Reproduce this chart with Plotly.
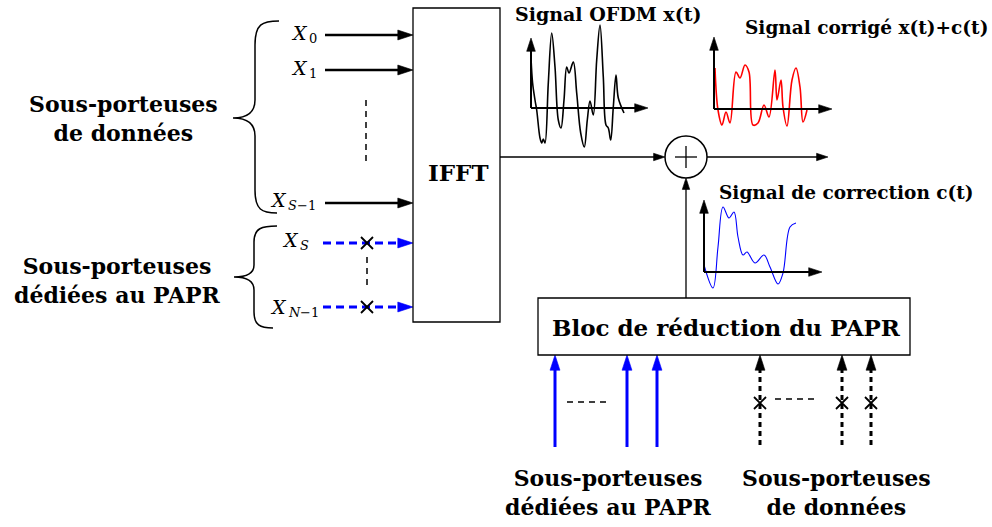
import plotly.graph_objects as go

W, H = 992, 527

# ---------------- signal data (amplitude units, time in samples) ----------------
ofdm_t = [0, 1.6, 4, 5.7, 9, 10.7, 12.3, 14, 17.3, 20.7, 24, 27.3, 30, 33, 35.7, 38, 42.3, 45.7,
          49.7, 53.3, 56.3, 59, 62.3, 65.7, 69, 72.3, 75, 77.3, 79.7, 82.3, 85, 87.3, 93]
ofdm_a = [5.0, 2.5, 0.8, -0.2, -3.0, -3.5, -3.1, -3.5, 2.5, 7.5, 4.1, -1.2, -2.0, 0.8, 4.1, 3.5, 4.6, 1.5,
          -2.5, -3.9, -1.2, 0.7, -0.7, 4.8, 8.3, 3.1, -1.7, -2.0, -3.2, 0.1, 3.3, 1.0, -0.5]

corr_t = [1, 4, 8, 12, 16, 22, 26, 31, 35, 39, 44, 50, 55, 61, 63, 67, 69, 73, 78, 82, 86, 89, 93]
corr_a = [4.1, -0.1, -1.6, -0.3, -1.4, 3.7, 3.1, 4.4, 3.7, -1.6, -1.4, 0.4, -0.8, 3.9, 0.9, 2.9, 0.2,
          -1.7, 2.9, 4.1, 2.2, -1.3, -0.1]

cor_t = [0, 9, 14, 19, 25, 30, 34, 39, 43, 51, 60, 66, 74, 79, 86, 92]
cor_a = [0.7, -1.6, 2.5, 6.5, 5.4, 6.0, 3.5, 1.7, 2.0, 0.9, 1.7, 0.5, -1.2, -0.1, 4.5, 4.9]

# ---------------- text ----------------
title_ofdm = "Signal OFDM x(t)"
title_corr = "Signal corrigé x(t)+c(t)"
title_cor = "Signal de correction c(t)"
label_ifft = "IFFT"
label_bloc = "Bloc de réduction du PAPR"
label_data = "Sous-porteuses<br>de données"
label_papr = "Sous-porteuses<br>dédiées au PAPR"
# subscript of each input symbol X: list of (text, italic) parts
input_subs = [[("0", False)], [("1", False)], [("S", True), ("−1", False)],
              [("S", True)], [("N", True), ("−1", False)]]

# ---------------- diagram layout (pixel coordinates) ----------------
ifft_box = [413, 8, 500, 322]
bloc_box = [538, 298, 910, 355]
sum_center = [686, 157]
sum_r = 21
input_y = [35, 70, 203, 243, 307]
input_x = [325, 325, 325, 323, 323]
label_left = [289, 289, 268, 280, 268]
label_y = [33, 68, 200, 240, 307]
bot_blue_x = [555, 627, 657]
bot_black_x = [760, 842, 871]
bot_y = [447, 355]

# mini plots: origin px, x-axis length px, top of y axis px, bottom of drawing px
mini = {
    "ofdm": dict(ox=531, oy=108, L=117, top=38, bot=155),
    "corr": dict(ox=714, oy=109, L=118, top=37, bot=135),
    "cor": dict(ox=704, oy=272, L=118, top=200, bot=298),
}
SC = 10.0  # px per amplitude unit
PAD = 14   # px of domain padding around each mini plot
FONT = "DejaVu Serif"

fig = go.Figure()
ann = []
shapes = []


def line(xs, ys, color="black", width=2, dash="solid", xa="x", ya="y"):
    fig.add_trace(go.Scatter(x=xs, y=ys, mode="lines", line=dict(color=color, width=width, dash=dash),
                             hoverinfo="skip", showlegend=False, xaxis=xa, yaxis=ya))


def arrow(x0, y0, x1, y1, color="black", width=2, dash="solid", hs=12, xa="x", ya="y"):
    fig.add_trace(go.Scatter(x=[x0, x1], y=[y0, y1], mode="lines+markers",
                             line=dict(color=color, width=width, dash=dash),
                             marker=dict(symbol="arrow", size=[0, hs], angleref="previous", color=color,
                                         opacity=1, line=dict(width=0.6, color=color)),
                             cliponaxis=False,
                             hoverinfo="skip", showlegend=False, xaxis=xa, yaxis=ya))


def text(x, y, t, size=20, bold=True, italic=False, xanchor="center"):
    ann.append(dict(x=x, y=y, xref="x", yref="y", text=t, showarrow=False, xanchor=xanchor, yanchor="middle",
                    font=dict(family=FONT, size=size, color="black", weight="bold" if bold else "normal",
                              style="italic" if italic else "normal"), align="center"))


def cross(xs, ys):
    fig.add_trace(go.Scatter(x=xs, y=ys, mode="markers",
                             marker=dict(symbol="x-thin", size=12, line=dict(color="black", width=1.8)),
                             hoverinfo="skip", showlegend=False, xaxis="x", yaxis="y"))


# IFFT box
shapes.append(dict(type="rect", xref="x", yref="y", x0=ifft_box[0], y0=ifft_box[1], x1=ifft_box[2],
                   y1=ifft_box[3], line=dict(color="black", width=1.3)))
text(458, 172, label_ifft, size=23)

# inputs
for i in range(3):
    arrow(input_x[i], input_y[i], ifft_box[0], input_y[i], width=2.5, hs=16)
for i in range(3, 5):
    arrow(input_x[i], input_y[i], ifft_box[0], input_y[i], color="blue", width=3, dash="8px,5px", hs=16)
line([366, 366], [100, 165], width=1.5, dash="6px,5px")
line([367, 367], [257, 290], width=1.5, dash="6px,5px")
cross([367, 367], [input_y[3], input_y[4]])
char_w = {"0": 8, "1": 8, "S": 9, "N": 12, "−1": 16}
for lx, ly, parts in zip(label_left, label_y, input_subs):
    text(lx, ly, "X", size=19, bold=False, italic=True, xanchor="left")
    sx = lx + 18
    for pt, it in parts:
        text(sx, ly + 5, pt, size=13, bold=False, italic=it, xanchor="left")
        sx += char_w[pt]

# braces
shapes.append(dict(type="path", xref="x", yref="y", line=dict(color="black", width=1.5),
                   path="M 279 21 C 262 21, 255 24, 255 45 L 255 100 C 255 112, 248 118, 233 118 "
                        "C 248 118, 255 124, 255 136 L 255 190 C 255 210, 262 213, 277 213"))
shapes.append(dict(type="path", xref="x", yref="y", line=dict(color="black", width=1.5),
                   path="M 277 226 C 262 226, 254 228, 254 242 L 254 265 C 254 272, 248 277, 234 277 "
                        "C 248 277, 254 282, 254 290 L 254 312 C 254 325, 260 328, 273 328"))
text(123, 118, label_data, size=22)
text(117, 280, label_papr, size=22)

# IFFT output to summer
arrow(ifft_box[2], 157, sum_center[0] - sum_r, 157, width=1.3, hs=12)
shapes.append(dict(type="circle", xref="x", yref="y", x0=sum_center[0] - sum_r, x1=sum_center[0] + sum_r,
                   y0=sum_center[1] - sum_r, y1=sum_center[1] + sum_r, line=dict(color="black", width=1.5)))
line([sum_center[0] - 11, sum_center[0] + 11], [157, 157], width=1.3)
line([sum_center[0], sum_center[0]], [146, 168], width=1.3)
arrow(sum_center[0] + sum_r, 157, 828, 157, width=1.3, hs=12)
arrow(sum_center[0], bloc_box[1], sum_center[0], sum_center[1] + sum_r, width=1.3, hs=12)

# PAPR block
shapes.append(dict(type="rect", xref="x", yref="y", x0=bloc_box[0], y0=bloc_box[1], x1=bloc_box[2],
                   y1=bloc_box[3], line=dict(color="black", width=1.3)))
text(726, 327, label_bloc, size=23)

for bx in bot_blue_x:
    arrow(bx, bot_y[0], bx, bot_y[1], color="blue", width=3, hs=16)
line([567, 608], [402, 402], width=1.5, dash="6px,5px")
for bx in bot_black_x:
    arrow(bx, 445, bx, bot_y[1], width=3, dash="5px,4px", hs=16)
line([775, 817], [399, 399], width=1.5, dash="6px,5px")
cross(bot_black_x, [403, 403, 403])
text(608, 492, label_papr, size=22)
text(836, 492, label_data, size=22)

# mini plots
series = {"ofdm": (ofdm_t, ofdm_a, "black", 1.6),
          "corr": (corr_t, corr_a, "red", 1.6),
          "cor": (cor_t, cor_a, "blue", 1.1)}
layout_axes = {}
for k, (name, m) in enumerate(mini.items()):
    idx = k + 2
    xa, ya = f"x{idx}", f"y{idx}"
    x0p, x1p = m["ox"] - PAD, m["ox"] + m["L"] + PAD
    ytp, ybp = m["top"] - PAD, m["bot"] + PAD
    layout_axes[f"xaxis{idx}"] = dict(domain=[x0p / W, x1p / W], range=[-PAD, m["L"] + PAD],
                                      visible=False, anchor=ya, fixedrange=True)
    layout_axes[f"yaxis{idx}"] = dict(domain=[1 - ybp / H, 1 - ytp / H],
                                      range=[(m["oy"] - ybp) / SC, (m["oy"] - ytp) / SC],
                                      visible=False, anchor=xa, fixedrange=True)
    t, a, c, w = series[name]
    fig.add_trace(go.Scatter(x=t, y=a, mode="lines", line=dict(color=c, width=w, shape="spline", smoothing=1.0),
                             cliponaxis=False,
                             hoverinfo="skip", showlegend=False, xaxis=xa, yaxis=ya))
    ytop = (m["oy"] - m["top"]) / SC
    arrow(0, 0, m["L"], 0, width=2, hs=14, xa=xa, ya=ya)
    arrow(0, 0, 0, ytop, width=2, hs=14, xa=xa, ya=ya)

for (tx, ty, tt, ts) in [(513, 14, title_ofdm, 19), (743, 27, title_corr, 18.5), (717, 192, title_cor, 18.5)]:
    ann.append(dict(x=tx, y=ty, xref="x", yref="y", text=tt, showarrow=False, xanchor="left",
                    yanchor="middle", font=dict(family=FONT, size=ts, color="black", weight="bold")))

fig.update_layout(
    width=W, height=H, margin=dict(l=0, r=0, t=0, b=0),
    paper_bgcolor="white", plot_bgcolor="rgba(0,0,0,0)",
    xaxis=dict(domain=[0, 1], range=[0, W], visible=False, fixedrange=True),
    yaxis=dict(domain=[0, 1], range=[H, 0], visible=False, fixedrange=True),
    annotations=ann, shapes=shapes, showlegend=False,
    **layout_axes,
)
fig.write_html("out.html", config={"displayModeBar": False, "staticPlot": True},
               post_script="document.body.style.margin='0px';document.body.style.overflow='hidden';")
